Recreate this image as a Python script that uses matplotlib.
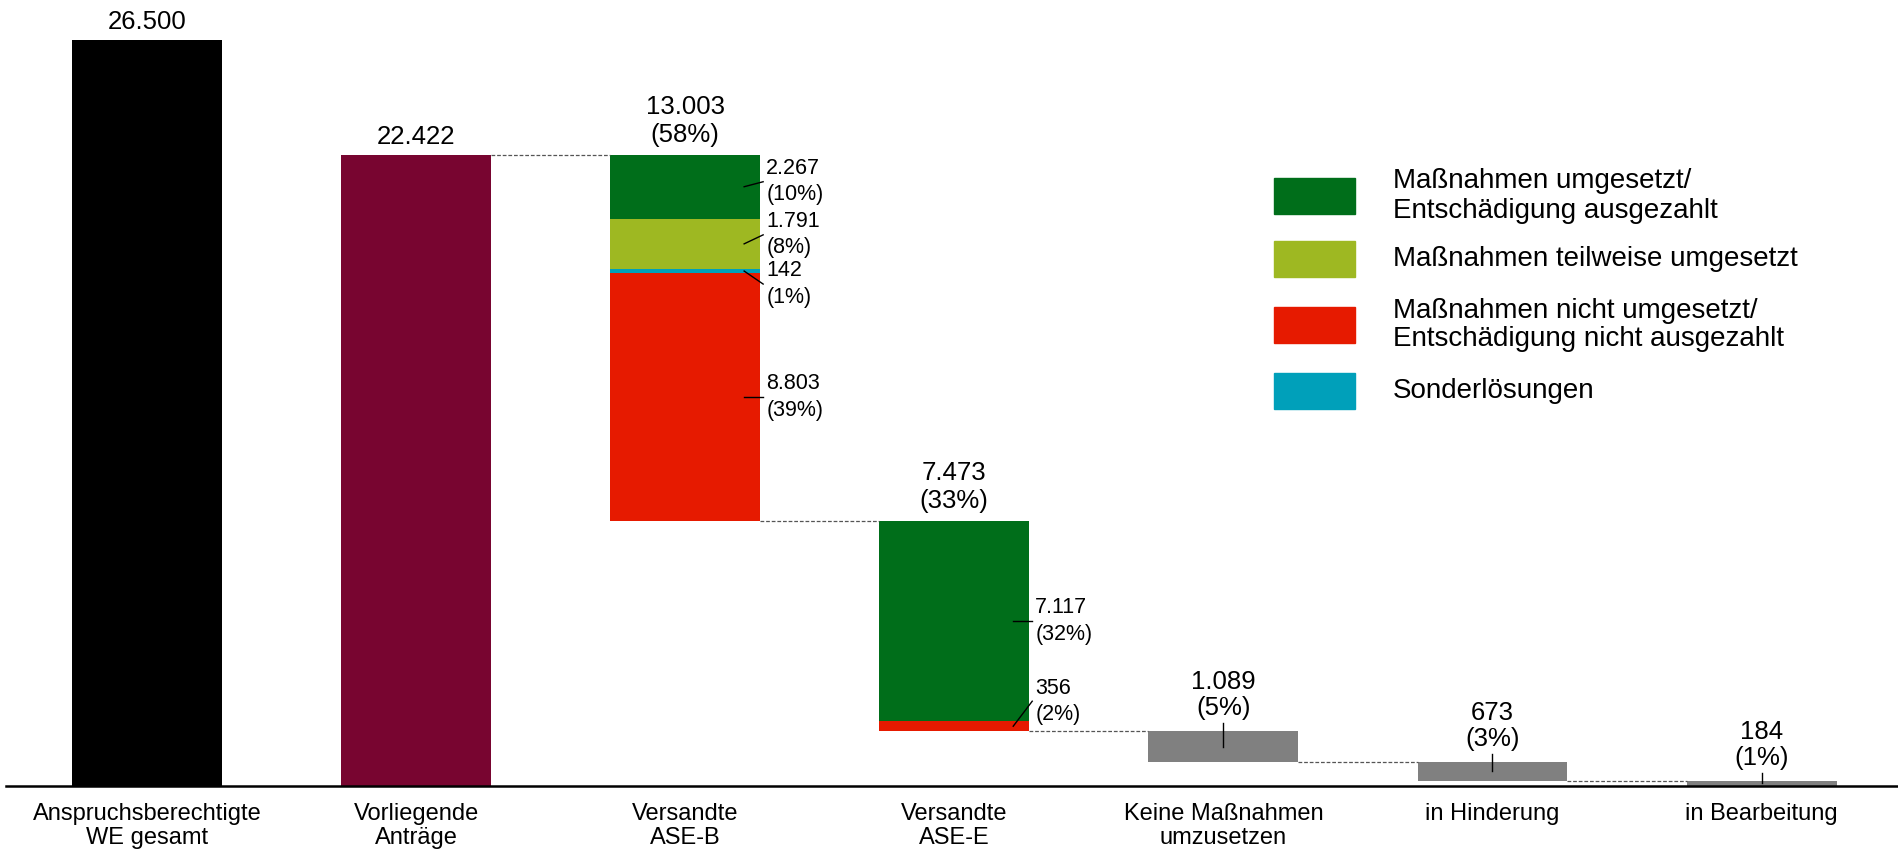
import numpy as np
import matplotlib
matplotlib.use('Agg')
import matplotlib.pyplot as plt
from matplotlib.patches import Rectangle

plt.rcParams['font.family'] = ['Liberation Sans', 'DejaVu Sans']

# ========== Daten ==========
categories = ['Anspruchsberechtigte\nWE gesamt', 'Vorliegende\nAnträge', 'Versandte\nASE-B',
              'Versandte\nASE-E', 'Keine Maßnahmen\numzusetzen', 'in Hinderung', 'in Bearbeitung']
totals = [26500, 22422, 13003, 7473, 1089, 673, 184]
total_pct = [None, None, '58%', '33%', '5%', '3%', '1%']

# Aufteilung ASE-B (von oben nach unten)
aseb_values = [2267, 1791, 142, 8803]
aseb_pct = ['10%', '8%', '1%', '39%']
aseb_kind = ['umgesetzt', 'teilweise', 'sonder', 'nicht']
# Aufteilung ASE-E (von oben nach unten)
asee_values = [7117, 356]
asee_pct = ['32%', '2%']
asee_kind = ['umgesetzt', 'nicht']

legend_labels = {'umgesetzt': 'Maßnahmen umgesetzt/\nEntschädigung ausgezahlt',
                 'teilweise': 'Maßnahmen teilweise umgesetzt',
                 'nicht': 'Maßnahmen nicht umgesetzt/\nEntschädigung nicht ausgezahlt',
                 'sonder': 'Sonderlösungen'}

colors = {'umgesetzt': '#006E1A', 'teilweise': '#9EB822', 'nicht': '#E61A00', 'sonder': '#00A0BA'}
col_total = '#000000'
col_antrag = '#780530'
col_rest = '#808080'


def fmt(v):
    return f"{v:,}".replace(',', '.')


# ========== Figur ==========
W, H = 1898, 849
fig = plt.figure(figsize=(W / 100, H / 100), dpi=100)
ax_left, ax_bottom = 6, 786  # Pixel
ax = fig.add_axes([ax_left / W, (H - ax_bottom) / H, 1 - ax_left / W, ax_bottom / H])

x = np.arange(len(categories))
bw = 0.557
ax.set_xlim(-0.524, 6.507)
ax.set_ylim(0, 27922)

# Pixel -> Daten Umrechnung
px_x = (W - ax_left) / (6.507 + 0.524)
px_y = ax_bottom / 27922
dx = lambda p: p / px_x
dy = lambda p: p / px_y

# Wasserfall: untere Kanten
bottoms = [0, 0]
level = totals[1]
for v in totals[2:]:
    level -= v
    bottoms.append(level)

# Balken 1 und 2
ax.bar(x[0], totals[0], bw, color=col_total)
ax.bar(x[1], totals[1], bw, color=col_antrag)

# ASE-B gestapelt
top = bottoms[2] + totals[2]
seg_b = []
for v, k in zip(aseb_values, aseb_kind):
    ax.bar(x[2], v, bw, bottom=top - v, color=colors[k])
    seg_b.append(top - v / 2)
    top -= v

# ASE-E gestapelt
top = bottoms[3] + totals[3]
seg_e = []
for v, k in zip(asee_values, asee_kind):
    ax.bar(x[3], v, bw, bottom=top - v, color=colors[k])
    seg_e.append(top - v / 2)
    top -= v

# Restliche graue Balken
for i in range(4, 7):
    ax.bar(x[i], totals[i], bw, bottom=bottoms[i], color=col_rest)

# Verbindungslinien (gestrichelt)
for i in range(1, 6):
    yline = bottoms[i] + totals[i] if i == 1 else bottoms[i]
    ax.plot([x[i] + bw / 2, x[i + 1] - bw / 2], [yline, yline], color='#555555',
            lw=0.9, ls=(0, (3, 1.5)))

# Summenbeschriftung oben
for i in range(4):
    t = fmt(totals[i]) if total_pct[i] is None else f"{fmt(totals[i])}\n({total_pct[i]})"
    off = 6 if total_pct[i] is None else 8
    ax.text(x[i], bottoms[i] + totals[i] + dy(off), t, ha='center', va='bottom',
            fontsize=18.5, linespacing=1.22)

# graue Balken: Beschriftung mit kleinem Strich
for i in range(4, 7):
    btop = bottoms[i] + totals[i]
    ax.plot([x[i], x[i]], [bottoms[i] + totals[i] / 2, btop + dy(8)], color='black', lw=1)
    ax.text(x[i], btop + dy(11), f"{fmt(totals[i])}\n({total_pct[i]})", ha='center',
            va='bottom', fontsize=18.5, linespacing=1.12)


# Segmentbeschriftungen rechts mit Führungslinie
def seg_label(xi, yc, value, pct, off):
    xr = xi + bw / 2
    ax.plot([xr - dx(16), xr + dx(3)], [yc, yc + dy(off)], color='black', lw=1)
    ax.text(xr + dx(6), yc + dy(off), f"{fmt(value)}\n({pct})", ha='left', va='center',
            fontsize=15.5, linespacing=1.32)


for yc, v, p, off in zip(seg_b, aseb_values, aseb_pct, [5, 9, -13, 0]):
    seg_label(x[2], yc, v, p, off)
for yc, v, p, off in zip(seg_e, asee_values, asee_pct, [0, 25]):
    seg_label(x[3], yc, v, p, off)

# Legende (manuell)
leg_order = ['umgesetzt', 'teilweise', 'nicht', 'sonder']
leg_y = [196, 259, 325, 391]
for k, yc in zip(leg_order, leg_y):
    fig.patches.append(Rectangle((1274 / W, (H - yc - 18) / H), 81 / W, 36 / H,
                                 transform=fig.transFigure, color=colors[k]))
    fig.text(1393 / W, (H - yc) / H, legend_labels[k], ha='left', va='center',
             fontsize=20, linespacing=1.15)

# Achsen
ax.set_xticks(x)
ax.set_xticklabels(categories, fontsize=17, linespacing=1.12)
ax.tick_params(axis='x', length=0, pad=12)
ax.set_yticks([])
for s in ['top', 'right', 'left']:
    ax.spines[s].set_visible(False)
ax.spines['bottom'].set_linewidth(1.8)

plt.savefig('out.png', dpi=100)
